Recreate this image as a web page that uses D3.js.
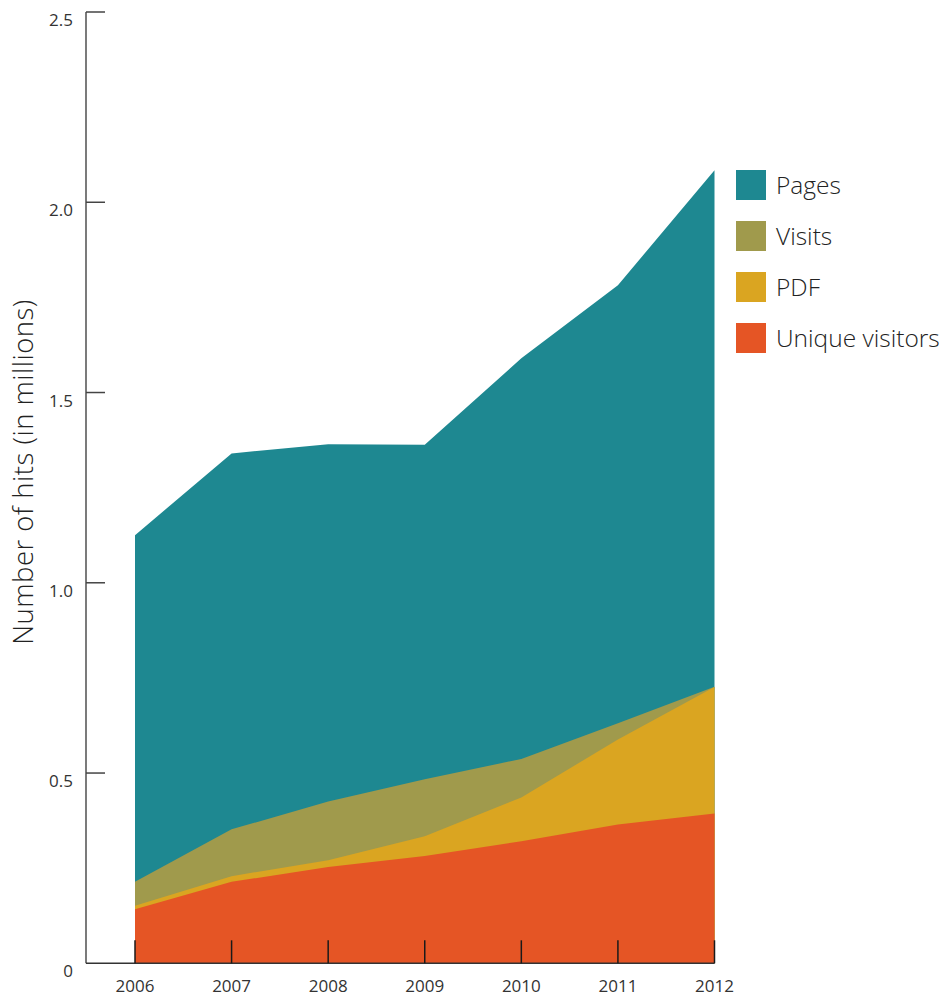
<!DOCTYPE html>
<html>
<head>
<meta charset="utf-8">
<script src="https://cdn.jsdelivr.net/npm/d3@7"></script>
<style>
  html, body { margin: 0; padding: 0; background: #fff; }
  svg { display: block; font-family: "Open Sans", "Noto Sans", sans-serif; }
</style>
</head>
<body>
<svg id="chart" width="944" height="998"></svg>
<script>
// Yearly web statistics, in millions of hits
const years = [2006, 2007, 2008, 2009, 2010, 2011, 2012];
const pages = [1.125, 1.340, 1.364, 1.363, 1.590, 1.782, 2.084];
const visits = [0.214, 0.352, 0.425, 0.484, 0.537, 0.631, 0.727];
const pdf = [0.151, 0.229, 0.271, 0.334, 0.436, 0.588, 0.726];
const uniqueVisitors = [0.142, 0.214, 0.253, 0.282, 0.321, 0.365, 0.394];
const yTicks = [0, 0.5, 1.0, 1.5, 2.0, 2.5];

const seriesNames = ["Pages", "Visits", "PDF", "Unique visitors"];
const seriesValues = [pages, visits, pdf, uniqueVisitors];
const seriesColors = ["#1e8891", "#a09a4c", "#daa521", "#e55525"];

const svg = d3.select("#chart");

const x = d3.scaleLinear().domain([2006, 2012]).range([135, 714.5]);
const y = d3.scaleLinear().domain([0, 2.5]).range([963.3, 12]);

// Each series is drawn from zero, largest first, so smaller ones sit on top
const area = d3.area()
  .x(d => x(d.year))
  .y0(y(0))
  .y1(d => y(d.value));

seriesNames.forEach((name, i) => {
  const pts = years.map((yr, j) => ({ year: yr, value: seriesValues[i][j] }));
  svg.append("path")
    .datum(pts)
    .attr("fill", seriesColors[i])
    .attr("d", area);
});

// Y axis: vertical rule with short inward ticks
const yAxisX = 86;
svg.append("line")
  .attr("x1", yAxisX).attr("x2", yAxisX)
  .attr("y1", y(2.5)).attr("y2", y(0))
  .attr("stroke", "#222").attr("stroke-width", 1.2);

const yAxisG = svg.append("g");
yAxisG.selectAll("line.tick")
  .data(yTicks.filter(t => t > 0))
  .join("line")
  .attr("class", "tick")
  .attr("x1", yAxisX).attr("x2", 105)
  .attr("y1", d => y(d)).attr("y2", d => y(d))
  .attr("stroke", "#444").attr("stroke-width", 1.5);

yAxisG.selectAll("text")
  .data(yTicks)
  .join("text")
  .attr("x", 73)
  .attr("y", d => y(d) + 14)
  .attr("text-anchor", "end")
  .attr("font-size", 17)
  .attr("fill", "#333")
  .text(d => d === 0 ? "0" : d3.format(".1f")(d));

// X axis: baseline with upward ticks over the areas
svg.append("line")
  .attr("x1", yAxisX).attr("x2", x(2012))
  .attr("y1", y(0)).attr("y2", y(0))
  .attr("stroke", "#333").attr("stroke-width", 1.5);

const xAxisG = svg.append("g");
xAxisG.selectAll("line")
  .data(years)
  .join("line")
  .attr("x1", d => x(d)).attr("x2", d => x(d))
  .attr("y1", y(0) - 23).attr("y2", y(0))
  .attr("stroke", "#1a1a1a").attr("stroke-width", 1.5);

xAxisG.selectAll("text")
  .data(years)
  .join("text")
  .attr("x", d => x(d))
  .attr("y", 992)
  .attr("text-anchor", "middle")
  .attr("font-size", 17)
  .attr("fill", "#333")
  .text(d => d);

// Axis title
svg.append("text")
  .attr("transform", "translate(33,472) rotate(-90)")
  .attr("text-anchor", "middle")
  .attr("font-size", 27.5)
  .attr("font-weight", 300)
  .attr("letter-spacing", 0.5)
  .attr("fill", "#222")
  .text("Number of hits (in millions)");

// Legend
const legend = svg.append("g").attr("transform", "translate(736,170)");
const rows = legend.selectAll("g")
  .data(seriesNames)
  .join("g")
  .attr("transform", (d, i) => `translate(0,${i * 51})`);
rows.append("rect")
  .attr("width", 30).attr("height", 30)
  .attr("fill", (d, i) => seriesColors[i]);
rows.append("text")
  .attr("x", 40).attr("y", 24)
  .attr("font-size", 24.5)
  .attr("font-weight", 300)
  .attr("fill", "#222")
  .text(d => d);
</script>
</body>
</html>
